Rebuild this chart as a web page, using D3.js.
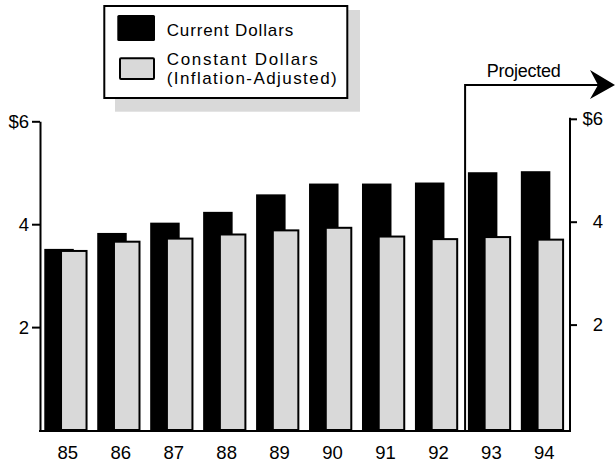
<!DOCTYPE html>
<html>
<head>
<meta charset="utf-8">
<script src="https://cdn.jsdelivr.net/npm/d3@7"></script>
<style>
  body { margin: 0; background: #fff; }
  svg { display: block; }
  text { font-family: "Liberation Sans", Arial, Helvetica, sans-serif; fill: #000; }
</style>
</head>
<body>
<svg id="chart" width="616" height="463"></svg>
<script>
// Spending per year, in dollars
const years = ["85", "86", "87", "88", "89", "90", "91", "92", "93", "94"];
const currentDollars  = [3.52, 3.83, 4.03, 4.24, 4.58, 4.79, 4.79, 4.81, 5.01, 5.03];
const constantDollars = [3.48, 3.66, 3.72, 3.80, 3.88, 3.93, 3.76, 3.71, 3.75, 3.70];
const yTicks = [2, 4, 6];
const legendLabels = ["Current Dollars", "Constant Dollars", "(Inflation-Adjusted)"];
const projectedLabel = "Projected";
const projectedFrom = "93";

const BLACK = "#000";
const GREY = "#d9d9d9";
const LABEL_SIZE = 18.5;

const svg = d3.select("#chart");

const x = d3.scaleBand().domain(years).range([40, 569.5]).padding(0);
const y = d3.scaleLinear().domain([0, 6]).range([430, 121.3]);
const yRight = d3.scaleLinear().domain([0, 6]).range([427.5, 118.8]);
const bw = x.bandwidth();
const fmt = d => (d === 6 ? "$6" : String(d));

// Current-dollar bars (behind)
svg.append("g").selectAll("rect").data(years).join("rect")
  .attr("x", d => x(d) + bw * 0.081)
  .attr("width", bw * 0.557)
  .attr("y", (d, i) => y(currentDollars[i]))
  .attr("height", (d, i) => y(0) - y(currentDollars[i]))
  .attr("fill", BLACK);

// Constant-dollar bars (front, outlined)
svg.append("g").selectAll("rect").data(years).join("rect")
  .attr("x", d => x(d) + bw * 0.397)
  .attr("width", bw * 0.482)
  .attr("y", (d, i) => y(constantDollars[i]))
  .attr("height", (d, i) => y(0) - y(constantDollars[i]))
  .attr("fill", GREY)
  .attr("stroke", BLACK)
  .attr("stroke-width", 2);

// Left axis
const gl = svg.append("g")
  .attr("transform", "translate(40,0)")
  .call(d3.axisLeft(y).tickValues(yTicks).tickSize(8).tickSizeOuter(0).tickPadding(3).tickFormat(fmt));
gl.attr("font-size", null).attr("font-family", null);
gl.select(".domain").attr("stroke-width", 2);
gl.selectAll(".tick line").attr("stroke-width", 2);
gl.selectAll(".tick text").attr("font-size", LABEL_SIZE);

// Right axis
const gr = svg.append("g")
  .attr("transform", "translate(570,0)")
  .call(d3.axisRight(yRight).tickValues(yTicks).tickSize(7).tickSizeOuter(0).tickFormat(fmt));
gr.attr("font-size", null).attr("font-family", null);
gr.select(".domain").remove();
gr.selectAll(".tick line").attr("stroke-width", 2);
gr.selectAll(".tick text").attr("font-size", LABEL_SIZE).attr("text-anchor", "end").attr("x", 33);
svg.append("line")
  .attr("x1", 570).attr("x2", 570)
  .attr("y1", y(0) + 1).attr("y2", yRight(6) - 1)
  .attr("stroke", BLACK).attr("stroke-width", 2);

// Bottom axis
svg.append("line")
  .attr("x1", 39).attr("x2", 571)
  .attr("y1", y(0) + 1).attr("y2", y(0) + 1)
  .attr("stroke", BLACK).attr("stroke-width", 2);
const gb = svg.append("g")
  .attr("transform", `translate(1.3,${y(0)})`)
  .call(d3.axisBottom(x).tickSize(0).tickPadding(16));
gb.attr("font-size", null).attr("font-family", null);
gb.select(".domain").remove();
gb.selectAll(".tick text").attr("font-size", LABEL_SIZE);

// Projected bracket with arrow
const px = x(projectedFrom) + 1.5;
const py = 85;
svg.append("path")
  .attr("d", `M${px},${y(0)} V${py} H602`)
  .attr("fill", "none").attr("stroke", BLACK).attr("stroke-width", 2);
svg.append("path")
  .attr("d", `M615,${py} L590,${py - 15} L598,${py} L590,${py + 14} Z`)
  .attr("fill", BLACK);
svg.append("text")
  .attr("x", 486.7).attr("y", 77.3)
  .attr("font-size", 18)
  .attr("textLength", 74).attr("lengthAdjust", "spacing")
  .text(projectedLabel);

// Legend
const lg = svg.append("g");
lg.append("rect").attr("x", 115).attr("y", 10).attr("width", 245).attr("height", 101.7).attr("fill", GREY);
lg.append("rect").attr("x", 104.3).attr("y", 6).attr("width", 243).attr("height", 92)
  .attr("fill", "#fff").attr("stroke", BLACK).attr("stroke-width", 2);
lg.append("rect").attr("x", 117.3).attr("y", 15).attr("width", 37.7).attr("height", 26)
  .attr("rx", 1.5).attr("fill", BLACK);
lg.append("rect").attr("x", 120).attr("y", 58.3).attr("width", 34).attr("height", 20.7)
  .attr("rx", 1).attr("fill", GREY).attr("stroke", BLACK).attr("stroke-width", 2);
const legendText = [
  { t: legendLabels[0], y: 35.5, w: 126.5 },
  { t: legendLabels[1], y: 64.5, w: 151 },
  { t: legendLabels[2], y: 84, w: 170 }
];
lg.selectAll("text.lbl").data(legendText).join("text")
  .attr("class", "lbl")
  .attr("x", 166.7).attr("y", d => d.y)
  .attr("font-size", 17)
  .attr("textLength", d => d.w).attr("lengthAdjust", "spacing")
  .text(d => d.t);
</script>
</body>
</html>
